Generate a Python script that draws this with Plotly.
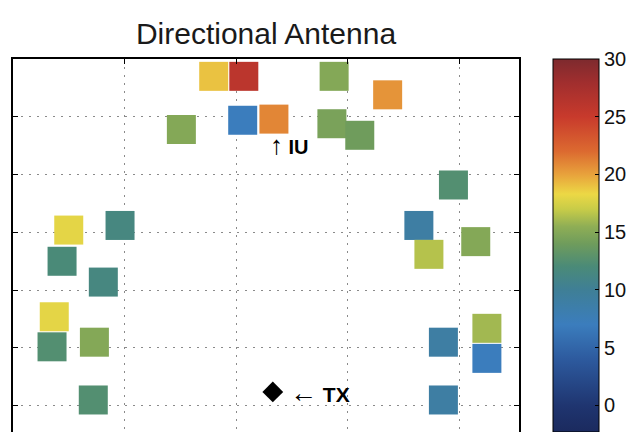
import plotly.graph_objects as go

# ---- data (metres / signal level) ----
cell_x = [18.0, 20.7, 20.6, 23.4, 15.1, 28.8, 33.6, 28.6, 31.1,
          39.5, 36.4, 37.3, 41.5,
          5.0, 9.6, 4.4, 8.1, 3.7, 3.5, 7.3, 7.2,
          38.6, 42.5, 42.5, 38.6]
cell_y = [28.5, 28.5, 24.7, 24.8, 23.9, 28.5, 26.9, 24.4, 23.4,
          19.1, 15.6, 13.1, 14.2,
          15.2, 15.6, 12.5, 10.7, 7.7, 5.1, 5.5, 0.5,
          5.5, 6.7, 4.1, 0.5]
cell_val = [19.0, 26.0, 7.0, 21.0, 15.0, 15.0, 20.5, 14.5, 14.0,
            12.5, 9.0, 16.5, 15.0,
            18.0, 11.5, 12.0, 11.5, 18.0, 12.5, 15.0, 12.5,
            9.0, 16.0, 7.0, 9.0]

tx_x = [23.3]
tx_y = [1.2]
iu_label_x = 22.9
iu_label_y = 22.6

x_ticks = [0, 10, 20, 30, 40]
y_ticks = [0, 5, 10, 15, 20, 25, 30]
cbar_ticks = [0, 5, 10, 15, 20, 25, 30]
cmin, cmax = -2.3, 30

# custom jet-like colormap
cmap_vals = [-2.3, 0, 4, 7, 10, 12, 14, 15.5, 17, 18.3, 20, 22, 25, 28, 30]
cmap_cols = ["#1b2a5e", "#1f3570", "#2d5a9e", "#3b7dbd", "#3f7f96", "#4a8a78",
             "#6f9c5c", "#8fae55", "#c8cc48", "#ecd845", "#e8a23c", "#dc6a30",
             "#c83a2c", "#a02e2e", "#7d2a2e"]
colorscale = [[(v - cmin) / (cmax - cmin), c] for v, c in zip(cmap_vals, cmap_cols)]

fig = go.Figure()
fig.add_trace(go.Scatter(
    x=cell_x, y=cell_y, mode="markers",
    marker=dict(symbol="square", size=29, color=cell_val, colorscale=colorscale,
                cmin=cmin, cmax=cmax, line=dict(width=0),
                showscale=True,
                colorbar=dict(x=1.067, xanchor="left", xpad=0, y=0.5, yanchor="middle",
                              ypad=0, len=1, lenmode="fraction", thickness=46,
                              outlinewidth=1, outlinecolor="black",
                              tickvals=cbar_ticks, ticks="inside", ticklen=4,
                              tickcolor="black",
                              tickfont=dict(family="Liberation Sans", size=20, color="#111"))),
    hoverinfo="skip", showlegend=False))

fig.add_trace(go.Scatter(
    x=tx_x, y=tx_y, mode="markers",
    marker=dict(symbol="diamond", size=16, color="black"),
    showlegend=False, hoverinfo="skip"))

fig.add_annotation(x=tx_x[0] + 1.4, y=tx_y[0] - 0.1,
                   text="<span style='font-size:27px'>←</span> <b>TX</b>", showarrow=False,
                   xanchor="left", yanchor="middle",
                   font=dict(family="Liberation Sans", size=21, color="black"))
fig.add_annotation(x=iu_label_x, y=iu_label_y,
                   text="<span style='font-size:26px'>↑</span> <b>IU</b>", showarrow=False,
                   xanchor="left", yanchor="middle",
                   font=dict(family="Liberation Sans", size=20, color="black"))

axis_common = dict(showgrid=True, gridcolor="#8a8a8a", griddash="2px,6px", gridwidth=1,
                   showticklabels=False, zeroline=False, showline=True,
                   linecolor="black", linewidth=2, ticks="inside", ticklen=5,
                   tickcolor="black")
fig.update_xaxes(range=[0, 45.38], tickvals=x_ticks, side="top", mirror=False, **axis_common)
fig.update_yaxes(range=[-2.27, 30], tickvals=y_ticks, mirror="ticks", **axis_common)

fig.update_layout(
    width=634, height=432,
    margin=dict(l=13, r=115, t=59, b=0, autoexpand=False),
    paper_bgcolor="white", plot_bgcolor="white",
    title=dict(text="Directional Antenna", x=0.5, xref="paper", xanchor="center",
               y=1 - 33 / 432, yref="container", yanchor="middle",
               font=dict(family="Liberation Sans", size=30, color="#1a1a1a")),
)

fig.write_html("out.html", config={"displayModeBar": False},
               post_script="document.body.style.margin='0px';document.body.style.overflow='hidden';")
